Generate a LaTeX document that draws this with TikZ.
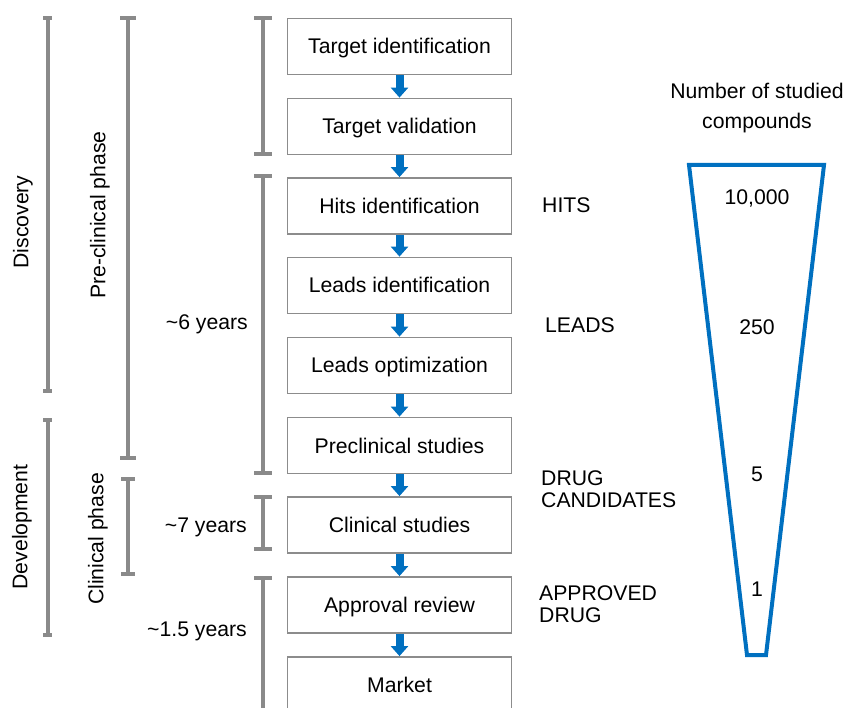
\documentclass[tikz,border=0pt]{standalone}
\usepackage{fontspec}
\setmainfont{Liberation Sans}
\usetikzlibrary{arrows.meta}
\definecolor{bblue}{HTML}{0070C0}
\definecolor{bgray}{HTML}{8A8A8A}
\definecolor{boxgray}{HTML}{8C8C8C}
\begin{document}
\begin{tikzpicture}[x=1pt,y=-1pt,
  every node/.style={font=\fontsize{21.2}{22.5}\selectfont},
  stepbox/.style={draw=boxgray, line width=1.8pt, minimum width=224pt, minimum height=56pt, inner sep=0pt, fill=white, text height=15pt, text depth=0pt},
  flowarr/.style={draw=bblue, line width=8pt, -{Triangle[width=17pt,length=10pt]}, color=bblue},
  brk/.style={draw=bgray, line width=4pt},
  capline/.style={draw=bgray, line width=3.5pt},
  lbl/.style={inner sep=0pt},
  funnel/.style={draw=bblue, line width=4pt, line join=miter}
]
\useasboundingbox (0,0) rectangle (851,708);
\clip (0,0) rectangle (851,708);

% process boxes
\node[stepbox] (b1) at (399.5,46.5) {Target identification};
\node[stepbox] (b2) at (399.5,126.5) {Target validation};
\node[stepbox] (b3) at (399.5,206) {Hits identification};
\node[stepbox] (b4) at (399.5,285.5) {Leads identification};
\node[stepbox] (b5) at (399.5,365.5) {Leads optimization};
\node[stepbox] (b6) at (399.5,445.5) {Preclinical studies};
\node[stepbox] (b7) at (399.5,525) {Clinical studies};
\node[stepbox] (b8) at (399.5,605) {Approval review};
\node[stepbox] (b9) at (399.5,685) {Market};

% arrows
\foreach \a/\b in {b1/b2,b2/b3,b3/b4,b4/b5,b5/b6,b6/b7,b7/b8,b8/b9}
  \draw[flowarr] (\a.south) -- (\b.north);

% brackets
\newcommand\mybracket[4]{% x, y1, y2, half cap width
  \draw[brk] (#1,#2) -- (#1,#3);
  \draw[capline] (#1-#4,#2) -- (#1+#4,#2);
  \draw[capline] (#1-#4,#3) -- (#1+#4,#3);}
\mybracket{47.5}{18}{391}{4.5}
\mybracket{47.5}{420}{635}{4.5}
\mybracket{128}{18}{458}{8}
\mybracket{128}{479}{574}{7}
\mybracket{263}{18}{154}{9}
\mybracket{263}{176}{473}{9}
\mybracket{263}{497}{549}{9}
\mybracket{263}{578}{720}{9}

% rotated labels
\node[lbl, rotate=90] (discovery) at (23,222) {Discovery};
\node[lbl, rotate=90] (preclin) at (100,215) {Pre-clinical phase};
\node[lbl, rotate=90] (develop) at (22,527) {Development};
\node[lbl, rotate=90] (clinph) at (98,539) {Clinical phase};

% durations
\node[lbl, anchor=east] (y6) at (248,325) {\strut\char`~6 years};
\node[lbl, anchor=east] (y7) at (247,528) {\strut\char`~7 years};
\node[lbl, anchor=east] (y15) at (247,632) {\strut\char`~1.5 years};

% stage names
\node[lbl, anchor=west] (hits) at (542,208) {\strut HITS};
\node[lbl, anchor=west] (leads) at (545,328) {\strut LEADS};
\node[lbl, anchor=west, align=left] (cands) at (541,489) {DRUG\\CANDIDATES};
\node[lbl, anchor=west, align=left] (approved) at (539,604) {APPROVED\\DRUG};

% funnel
\node[lbl, align=center, font=\fontsize{21.2}{30}\selectfont] (title) at (757,108) {Number of studied\\compounds};
\draw[funnel] (689,165) -- (824,165) -- (766,655) -- (747,655) -- cycle;
\node[lbl] (n1) at (757,200) {\strut 10,000};
\node[lbl] (n2) at (757,330) {\strut 250};
\node[lbl] (n3) at (757,477) {\strut 5};
\node[lbl] (n4) at (757,592) {\strut 1};
\end{tikzpicture}
\end{document}
